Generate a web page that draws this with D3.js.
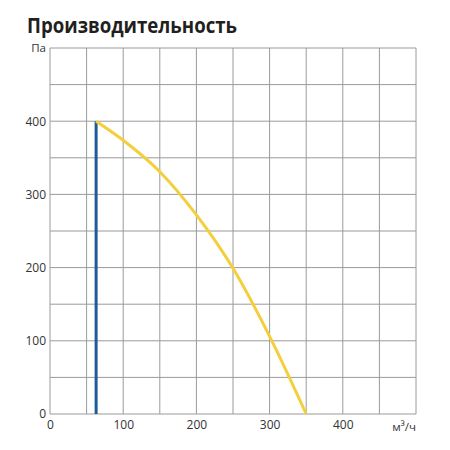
<!DOCTYPE html>
<html><head><meta charset="utf-8">
<script src="https://cdn.jsdelivr.net/npm/d3@7"></script>
<style>body{margin:0;background:#fff}svg{display:block}</style>
</head><body>
<script>
const title = "Производительность";
const xTicks = [0, 100, 200, 300, 400];
const yTicks = [0, 100, 200, 300, 400];
const xUnit = "м³/ч";
const yUnit = "Па";
const curveX = [63, 100, 150, 200, 250, 300, 350];
const curveY = [400, 374, 331, 272, 199, 106, 0];
const limitX = [63, 63];
const limitY = [0, 400];

const W = 450, H = 450;
const m = {left: 50, right: 34, top: 48, bottom: 36};
const svg = d3.select("body").append("svg").attr("width", W).attr("height", H);
const x = d3.scaleLinear().domain([0, 500]).range([m.left, W - m.right]);
const y = d3.scaleLinear().domain([0, 500]).range([H - m.bottom, m.top]);
const font = "'Open Sans', 'Noto Sans', sans-serif";

svg.append("text").attr("x", 27).attr("y", 33).text(title)
  .attr("textLength", 210).attr("lengthAdjust", "spacingAndGlyphs")
  .attr("font-family", font).attr("font-weight", 700).attr("font-size", 20.5).attr("fill", "#231f20");

const grid = svg.append("g").attr("stroke", "#9a9a9a").attr("stroke-width", 1);
d3.range(0, 501, 50).forEach(v => {
  grid.append("line").attr("x1", x(v)).attr("x2", x(v)).attr("y1", y(0)).attr("y2", y(500));
  grid.append("line").attr("y1", y(v)).attr("y2", y(v)).attr("x1", x(0)).attr("x2", x(500));
});

const xAxis = svg.append("g").attr("transform", `translate(0,${y(0)})`)
  .call(d3.axisBottom(x).tickValues(xTicks).tickSize(0).tickPadding(6));
const yAxis = svg.append("g").attr("transform", `translate(${x(0)},0)`)
  .call(d3.axisLeft(y).tickValues(yTicks).tickSize(0).tickPadding(4));
[xAxis, yAxis].forEach(a => {
  a.select(".domain").remove();
  a.selectAll("text").attr("font-family", font).attr("font-size", 12).attr("fill", "#333");
});
yAxis.selectAll("text").attr("dy", "0.32em");

svg.append("text").attr("x", x(500)).attr("y", y(0) + 17).attr("text-anchor", "end")
  .text(xUnit).attr("font-family", font).attr("font-size", 11.5).attr("fill", "#333");
svg.append("text").attr("x", x(0) - 4).attr("y", y(500) + 4).attr("text-anchor", "end")
  .text(yUnit).attr("font-family", font).attr("font-size", 11.5).attr("fill", "#333");

const line = d3.line().x(d => x(d[0])).y(d => y(d[1]));
svg.append("path").datum(limitX.map((v, i) => [v, limitY[i]]))
  .attr("d", line).attr("fill", "none").attr("stroke", "#1d5c99").attr("stroke-width", 3);
svg.append("path").datum(curveX.map((v, i) => [v, curveY[i]]))
  .attr("d", line.curve(d3.curveMonotoneX)).attr("fill", "none")
  .attr("stroke", "#f4cf3c").attr("stroke-width", 3);
</script>
</body></html>
